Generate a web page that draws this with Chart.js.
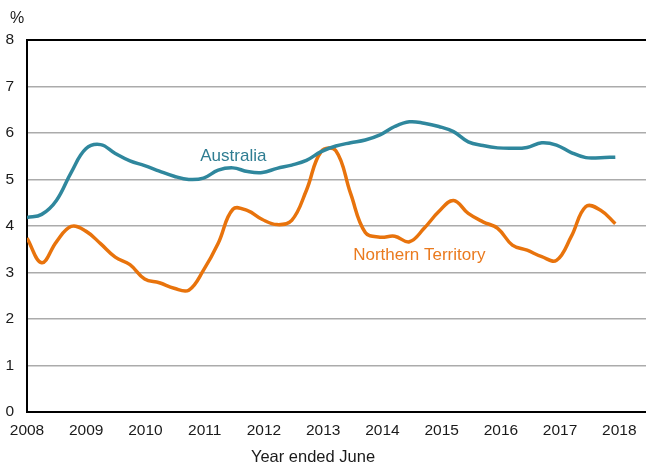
<!DOCTYPE html>
<html>
<head>
<meta charset="utf-8">
<script src="https://cdn.jsdelivr.net/npm/chart.js@4/dist/chart.umd.min.js"></script>
<style>
  html, body { margin: 0; padding: 0; background: #fff; }
</style>
</head>
<body>
<canvas id="chart" width="646" height="466"></canvas>
<script>
const yearTicks = [2008, 2009, 2010, 2011, 2012, 2013, 2014, 2015, 2016, 2017, 2018];

// quarterly readings, March 2008 through to early 2018
const australia = [
  4.18, 4.25, 4.55, 5.15, 5.66, 5.75, 5.56, 5.40, 5.30, 5.18,
  5.07, 5.00, 5.03, 5.20, 5.25, 5.17, 5.15, 5.24, 5.31, 5.41,
  5.60, 5.72, 5.79, 5.85, 5.96, 6.14, 6.24, 6.21, 6.14, 6.03,
  5.81, 5.73, 5.68, 5.67, 5.69, 5.79, 5.74, 5.58, 5.47, 5.47,
  5.48
];
const northernTerritory = [
  3.74, 3.21, 3.66, 3.99, 3.89, 3.62, 3.33, 3.17, 2.86, 2.78,
  2.66, 2.62, 3.05, 3.63, 4.36, 4.33, 4.14, 4.03, 4.12, 4.77,
  5.60, 5.62, 4.70, 3.86, 3.76, 3.78, 3.66, 3.95, 4.31, 4.55,
  4.27, 4.09, 3.95, 3.59, 3.48, 3.34, 3.26, 3.77, 4.42, 4.34,
  4.05
];
const periods = australia.map((_, i) => 2008 + i * 0.2483);

const colors = {
  australia: "#2f879d",
  australiaText: "#2f7d92",
  territory: "#e8730c",
  territoryText: "#ea7a1e",
  grid: "#ababab",
  axis: "#000000",
  text: "#1a1a1a"
};

const seriesLabels = [
  { text: "Australia", year: 2010.925, value: 5.40, color: colors.australiaText },
  { text: "Northern Territory", year: 2013.506, value: 3.27, color: colors.territoryText }
];

const fontFamily = "'Liberation Sans', Arial, sans-serif";

function toPoints(values) {
  return values.map((value, i) => ({ x: periods[i], y: value }));
}

const chartText = {
  id: "chartText",
  afterDraw(chart) {
    const { ctx, scales: { x, y } } = chart;
    ctx.save();
    ctx.textBaseline = "alphabetic";
    ctx.textAlign = "left";
    ctx.font = `17px ${fontFamily}`;
    seriesLabels.forEach(label => {
      ctx.fillStyle = label.color;
      ctx.fillText(label.text, x.getPixelForValue(label.year), y.getPixelForValue(label.value));
    });

    ctx.fillStyle = colors.text;
    ctx.font = `16px ${fontFamily}`;
    ctx.fillText("%", 10, 23);

    ctx.textAlign = "center";
    ctx.font = `16.5px ${fontFamily}`;
    ctx.fillText("Year ended June", 313, 462);
    ctx.restore();
  }
};

new Chart(document.getElementById("chart"), {
  type: "line",
  data: {
    datasets: [
      {
        label: "Australia",
        data: toPoints(australia),
        borderColor: colors.australia,
        borderWidth: 3.5,
        pointRadius: 0,
        tension: 0.4
      },
      {
        label: "Northern Territory",
        data: toPoints(northernTerritory),
        borderColor: colors.territory,
        borderWidth: 3.5,
        pointRadius: 0,
        tension: 0.4
      }
    ]
  },
  options: {
    responsive: false,
    animation: false,
    layout: { padding: { top: 40, right: 0, bottom: 0, left: 0 } },
    plugins: {
      legend: { display: false },
      tooltip: { enabled: false }
    },
    scales: {
      x: {
        type: "linear",
        min: 2008,
        max: 2018.45,
        afterFit: scale => { scale.height = 54; },
        afterBuildTicks: scale => { scale.ticks = yearTicks.map(value => ({ value })); },
        ticks: {
          autoSkip: false,
          maxRotation: 0,
          padding: 9,
          color: colors.text,
          font: { family: fontFamily, size: 15.5 },
          callback: value => String(value)
        },
        grid: { display: false, drawTicks: false },
        border: { display: true, color: colors.axis, width: 2 }
      },
      y: {
        min: 0,
        max: 8,
        afterFit: scale => { scale.width = 27; },
        ticks: {
          stepSize: 1,
          padding: 13,
          color: colors.text,
          font: { family: fontFamily, size: 15.5 }
        },
        grid: {
          drawTicks: false,
          color: ctx => (ctx.tick.value === 8 || ctx.tick.value === 0 ? colors.axis : colors.grid),
          lineWidth: ctx => (ctx.tick.value === 8 ? 2 : 1.5)
        },
        border: { display: true, color: colors.axis, width: 2 }
      }
    }
  },
  plugins: [chartText]
});
</script>
</body>
</html>
